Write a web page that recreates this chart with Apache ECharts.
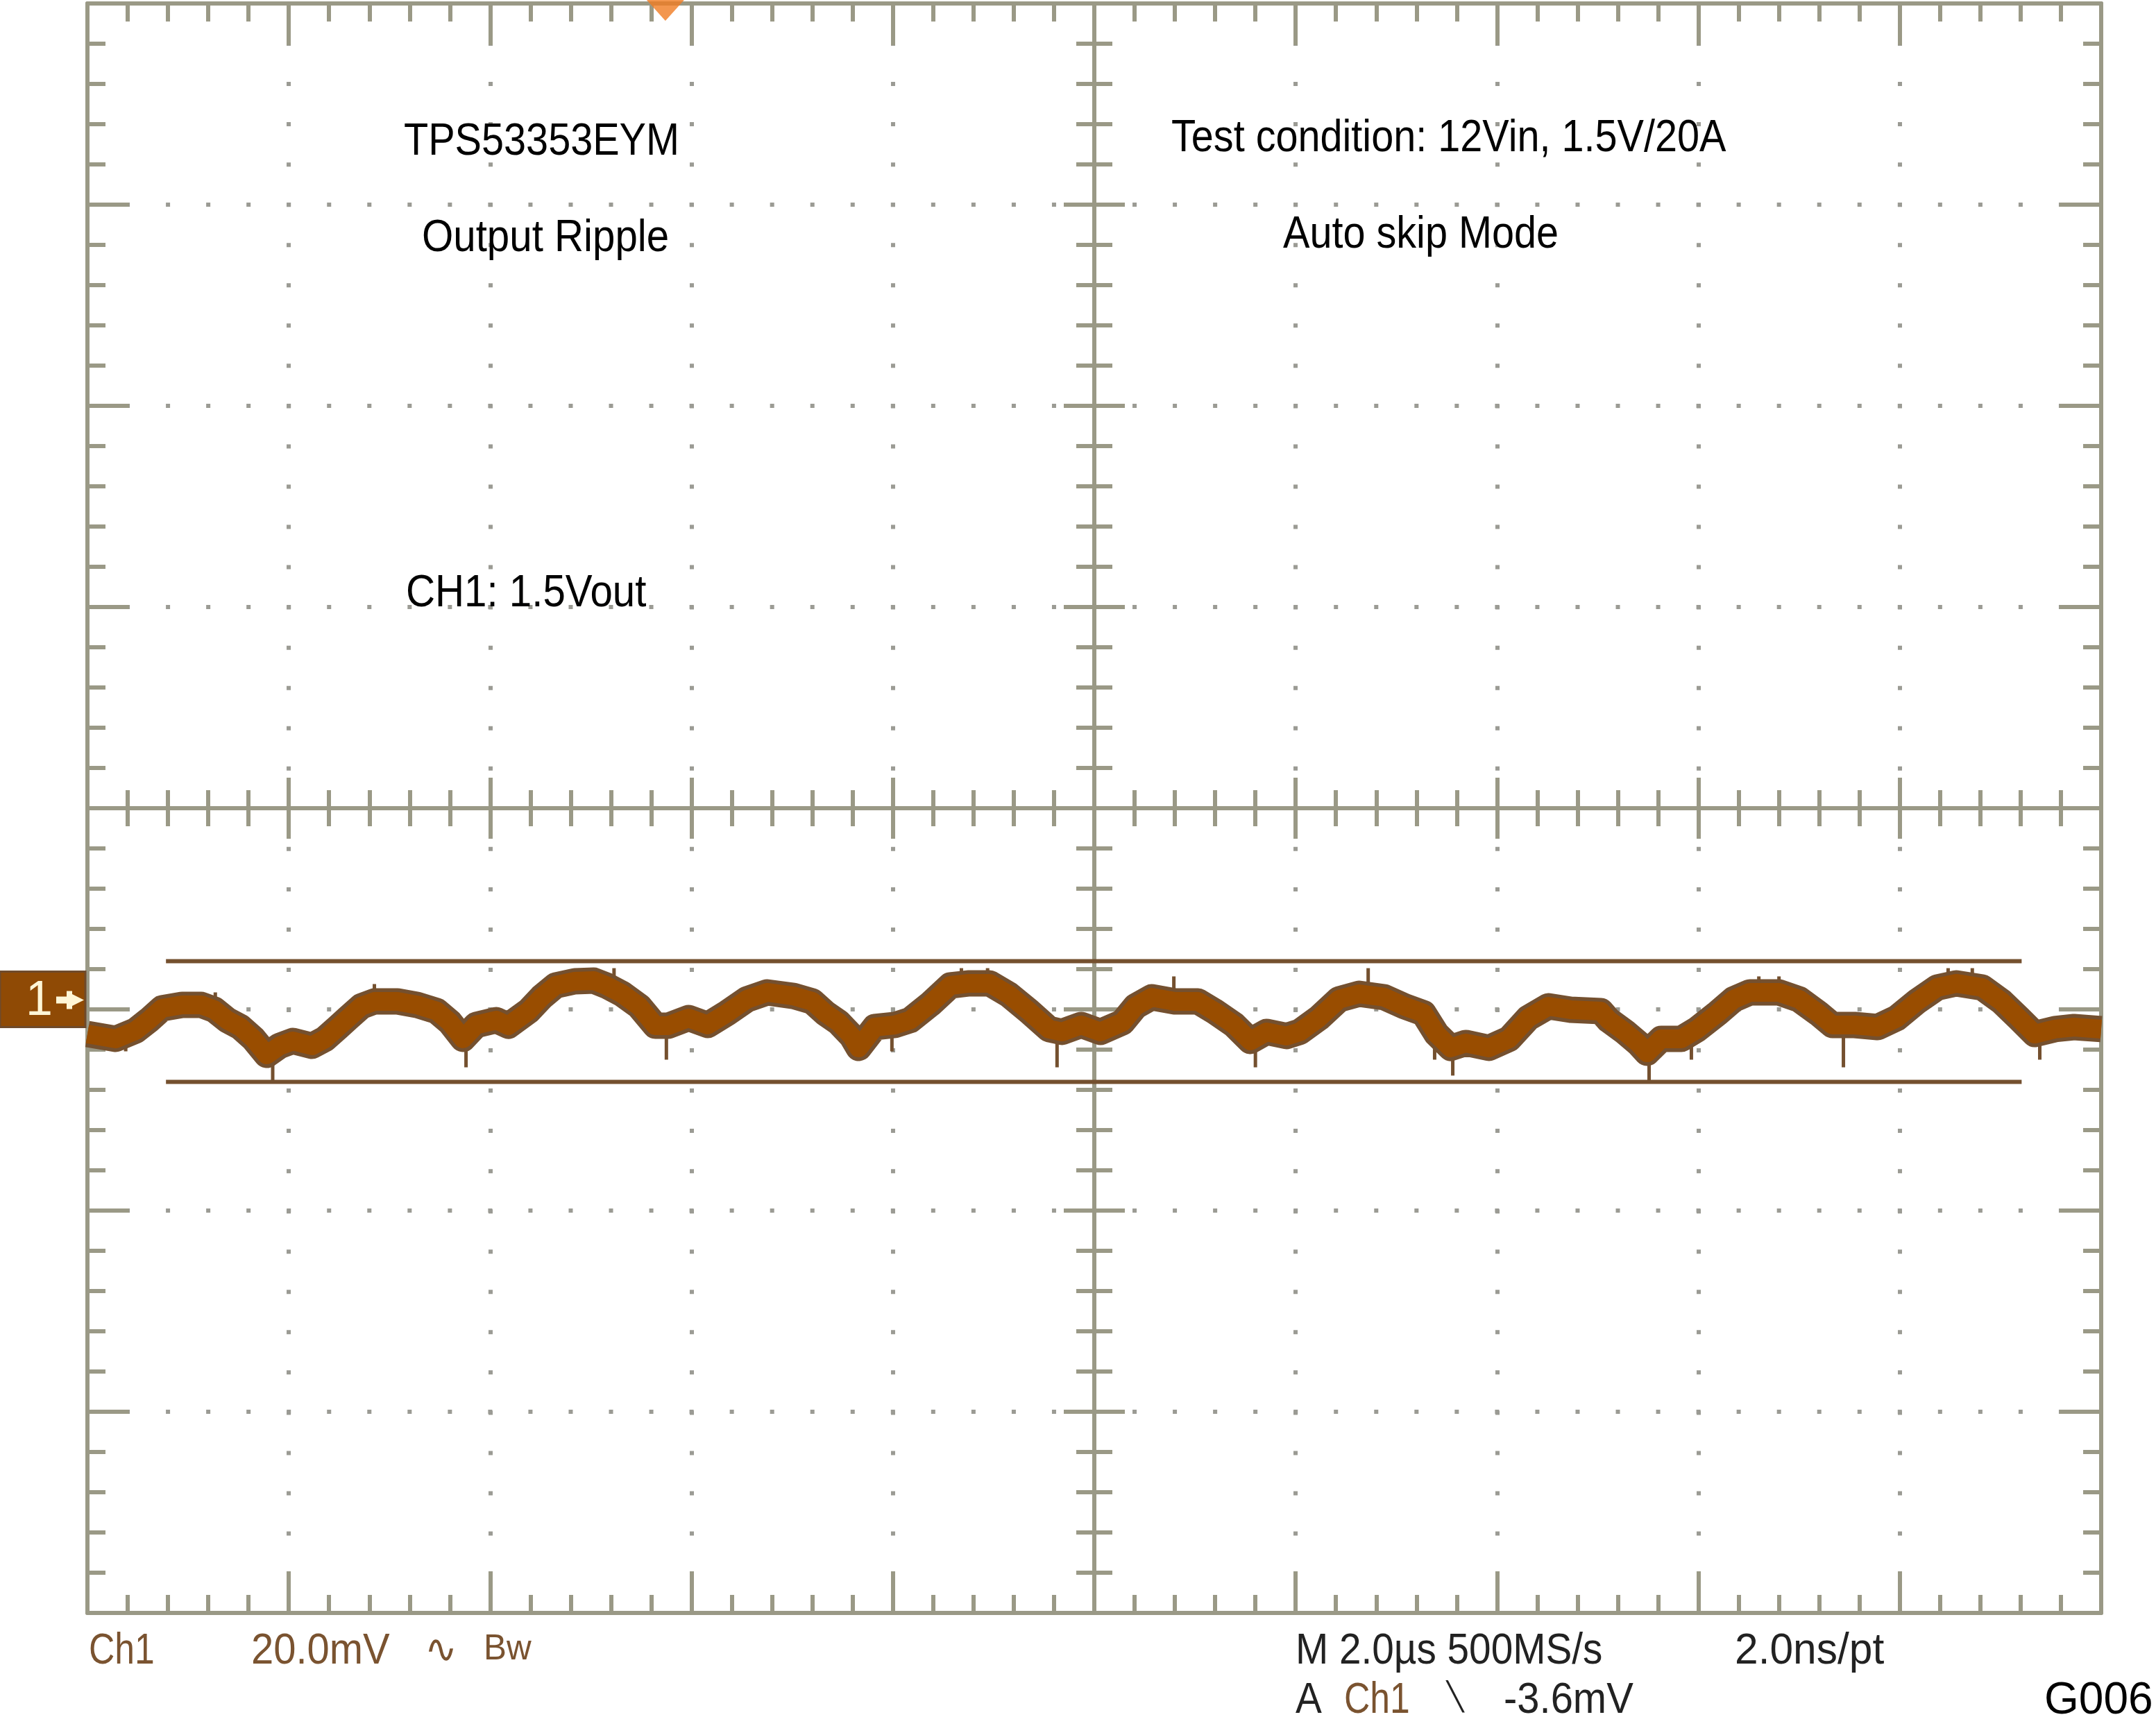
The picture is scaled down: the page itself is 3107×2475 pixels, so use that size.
<!DOCTYPE html>
<html><head><meta charset="utf-8">
<script src="https://cdn.jsdelivr.net/npm/echarts@6/dist/echarts.min.js"></script>
<style>html,body{margin:0;padding:0;background:#fff;}#c{width:3107px;height:2475px;}</style>
</head><body><div id="c"></div>
<script>
// Horizontal: time in µs (2.0 µs/div, 10 div)
const timeMin = 0, timeMax = 20, timeDiv = 2;
// Vertical: mV on screen scale (20 mV/div, 8 div, centred)
const voltMin = -80, voltMax = 80, voltDiv = 20;
// Channel 1 reference marker position (mV on screen scale)
const ch1Offset = -19.0;
// Output ripple trace (µs, mV relative to Ch1 marker)
const traceTime = [0.00,0.28,0.48,0.61,0.74,0.94,1.13,1.26,1.39,1.52,
  1.65,1.78,1.91,2.04,2.23,2.36,2.49,2.59,2.72,2.85,
  3.08,3.27,3.47,3.60,3.73,3.86,4.06,4.18,4.38,4.51,
  4.65,4.84,5.03,5.15,5.31,5.48,5.64,5.77,5.97,6.16,
  6.35,6.55,6.75,7.01,7.20,7.33,7.46,7.59,7.66,7.82,
  8.02,8.17,8.37,8.57,8.76,8.96,9.15,9.35,9.55,9.68,
  9.87,10.06,10.28,10.41,10.57,10.80,11.03,11.19,11.39,11.55,
  11.71,11.91,12.04,12.23,12.43,12.63,12.88,13.08,13.27,13.40,
  13.54,13.69,13.92,14.12,14.31,14.51,14.73,15.03,15.11,15.27,
  15.40,15.49,15.63,15.83,15.99,16.19,16.35,16.51,16.80,17.00,
  17.19,17.33,17.55,17.78,17.97,18.17,18.37,18.56,18.82,19.01,
  19.18,19.34,19.54,19.73,20.00];
const traceMv = [-3.45,-3.93,-3.10,-2.07,-0.90,-0.55,-0.55,-1.03,-2.07,-2.76,
  -3.93,-5.52,-4.62,-4.14,-4.62,-3.93,-2.76,-1.86,-0.69,-0.21,
  -0.21,-0.55,-1.17,-2.28,-3.93,-2.55,-2.07,-2.62,-1.17,0.21,
  1.38,1.79,1.86,1.38,0.55,-0.69,-2.62,-2.62,-1.86,-2.55,
  -1.38,0.00,0.69,0.34,-0.21,-1.38,-2.28,-3.65,-4.83,-2.76,
  -2.55,-2.07,-0.48,1.38,1.59,1.59,0.48,-1.17,-2.96,-3.24,
  -2.55,-3.24,-2.28,-0.69,0.21,-0.21,-0.21,-1.17,-2.55,-4.14,
  -3.24,-3.65,-3.24,-1.86,0.00,0.55,0.21,-0.69,-1.38,-3.45,
  -4.83,-4.34,-4.83,-3.93,-1.86,-0.69,-1.03,-1.17,-2.07,-3.24,
  -4.34,-5.31,-3.93,-3.93,-2.96,-1.38,0.00,0.69,0.69,0.00,
  -1.38,-2.55,-2.55,-2.76,-1.86,-0.21,1.17,1.59,1.17,-0.21,
  -1.86,-3.45,-2.96,-2.76,-2.96];
// Noise spikes (µs, tip in mV relative to Ch1 marker)
const spikeTime = [0.38,1.00,1.27,1.84,2.85,3.76,5.04,5.23,5.75,7.00,
  7.66,7.99,8.68,8.94,9.63,10.79,11.60,12.72,13.38,13.56,
  15.51,15.93,16.60,16.80,17.44,18.48,18.72,19.39];
const spikeEndMv = [-5.17,0.69,0.69,-8.07,1.52,-6.76,3.10,3.10,-6.00,1.52,
  -6.00,-5.17,3.10,3.10,-6.76,2.28,-6.76,3.10,-6.00,-7.58,
  -8.07,-6.00,2.28,2.28,-6.76,3.10,3.10,-6.00];
// Horizontal measurement cursors
const cursorTime = [0.78, 19.21];
const cursorMv = [3.8, -8.2];
// Trigger position (µs)
const triggerTime = 5.74;

const gridColor = '#9a9986';
const dotColor = '#9b9b94';
const traceColor = '#994d00';
const edgeColor = '#74502f';

function interp(t) {
  for (let i = 0; i < traceTime.length - 1; i++) {
    if (t >= traceTime[i] && t <= traceTime[i + 1]) {
      const f = (t - traceTime[i]) / (traceTime[i + 1] - traceTime[i]);
      return traceMv[i] + f * (traceMv[i + 1] - traceMv[i]);
    }
  }
  return traceMv[traceMv.length - 1];
}

function axis(type, pos, opts) {
  return {
    type: 'value',
    min: type === 'x' ? timeMin : voltMin,
    max: type === 'x' ? timeMax : voltMax,
    interval: type === 'x' ? timeDiv : voltDiv,
    position: pos,
    offset: opts.offset || 0,
    axisLine: {show: true, onZero: false, lineStyle: {color: gridColor, width: 6}},
    axisTick: {show: true, inside: opts.inside, length: opts.major, lineStyle: {color: gridColor, width: 6}},
    minorTick: {show: true, splitNumber: 5, length: opts.minor, lineStyle: {color: gridColor, width: 6}},
    axisLabel: {show: false},
    splitLine: {show: !!opts.split, lineStyle: {color: dotColor, width: 6, type: [6, 52.04], dashOffset: 3, cap: 'butt'}},
    axisPointer: {show: false}
  };
}

const tracePts = traceTime.map((t, i) => [t, traceMv[i] + ch1Offset]);
const spikeData = spikeTime.map((t, i) => [t, interp(t) + ch1Offset, spikeEndMv[i] + ch1Offset]);

const pixFont = "'Liberation Sans', Arial, sans-serif";
function label(text, x, y, size, color, sx) {
  return {type: 'text', x: x, y: y, scaleX: sx, z: 100,
    style: {text: text, fill: color, fontSize: size, fontFamily: pixFont, align: 'left', verticalAlign: 'middle'}};
}

const chart = echarts.init(document.getElementById('c'), null, {renderer: 'canvas'});
chart.setOption({
  animation: false,
  backgroundColor: '#ffffff',
  grid: {left: 126, top: 5, width: 2902, height: 2320, containLabel: false},
  xAxis: [
    axis('x', 'bottom', {inside: true, major: 60, minor: 26, split: true}),
    axis('x', 'top', {inside: true, major: 60, minor: 26}),
    axis('x', 'bottom', {inside: true, major: 44, minor: 26, offset: -1160}),
    axis('x', 'bottom', {inside: false, major: 44, minor: 26, offset: -1160})
  ],
  yAxis: [
    axis('y', 'left', {inside: true, major: 60, minor: 26, split: true}),
    axis('y', 'right', {inside: true, major: 60, minor: 26}),
    axis('y', 'left', {inside: true, major: 44, minor: 26, offset: -1451}),
    axis('y', 'left', {inside: false, major: 44, minor: 26, offset: -1451})
  ],
  series: [
    {type: 'line', name: 'cursorHi', data: cursorTime.map(t => [t, cursorMv[0] + ch1Offset]),
      symbol: 'none', z: 5, lineStyle: {color: edgeColor, width: 6}},
    {type: 'line', name: 'cursorLo', data: cursorTime.map(t => [t, cursorMv[1] + ch1Offset]),
      symbol: 'none', z: 5, lineStyle: {color: edgeColor, width: 6}},
    {type: 'line', name: 'edge', data: tracePts, symbol: 'none', z: 6,
      lineStyle: {color: edgeColor, width: 38, cap: 'butt', join: 'round'}},
    {type: 'custom', name: 'spikes', data: spikeData, z: 7,
      renderItem: function (params, api) {
        const p1 = api.coord([api.value(0), api.value(1)]);
        const p2 = api.coord([api.value(0), api.value(2)]);
        return {type: 'rect', shape: {x: p1[0] - 2.5, y: Math.min(p1[1], p2[1]), width: 5, height: Math.abs(p2[1] - p1[1])},
          style: {fill: edgeColor}};
      }},
    {type: 'line', name: 'core', data: tracePts, symbol: 'none', z: 8,
      lineStyle: {color: traceColor, width: 27, cap: 'butt', join: 'round'}},
    {type: 'scatter', name: 'trigger', data: [[triggerTime, voltMax]], clip: false, z: 20,
      symbol: 'triangle', symbolRotate: 180, symbolSize: [54, 30], symbolOffset: [0, 10],
      itemStyle: {color: '#f07c22'}},
    {type: 'custom', name: 'ch1marker', data: [[timeMin, ch1Offset]], clip: false, z: 20,
      renderItem: function (params, api) {
        const p = api.coord([api.value(0), api.value(1)]);
        const cx = p[0] - 3, cy = p[1];
        const cream = '#fff6d6';
        return {type: 'group', children: [
          {type: 'rect', shape: {x: cx - 123, y: cy - 40, width: 123, height: 80}, style: {fill: '#8f4a05', stroke: '#6f4a2b', lineWidth: 3}},
          {type: 'text', x: cx - 86, y: cy + 3, style: {text: '1', fill: cream, fontSize: 70, fontFamily: pixFont, verticalAlign: 'middle'}},
          {type: 'rect', shape: {x: cx - 42, y: cy - 4, width: 26, height: 10}, style: {fill: cream}},
          {type: 'rect', shape: {x: cx - 27, y: cy - 12, width: 8, height: 26}, style: {fill: cream}},
          {type: 'polygon', shape: {points: [[cx - 20, cy - 8], [cx - 2, cy + 1], [cx - 20, cy + 10]]}, style: {fill: cream}}
        ]};
      }}
  ],
  graphic: [
    label('TPS53353EYM', 582, 205, 64, '#000', 0.9),
    label('Output Ripple', 608, 344, 64, '#000', 0.91),
    label('CH1: 1.5Vout', 585, 856, 64, '#000', 0.91),
    label('Test condition: 12Vin, 1.5V/20A', 1688, 200, 64, '#000', 0.9),
    label('Auto skip Mode', 1849, 339, 64, '#000', 0.9),
    label('Ch1', 128, 2381, 63, '#7a5330', 0.82),
    label('20.0mV', 362, 2381, 63, '#7a5330', 0.92),
    label('\u223F', 612, 2381, 56, '#7a5330', 1),
    label('Bw', 697, 2378, 52, '#7a5330', 0.95),
    label('M 2.0\u00B5s 500MS/s', 1867, 2381, 63, '#222', 0.9),
    label('2.0ns/pt', 2500, 2381, 63, '#222', 0.96),
    label('A', 1867, 2452, 63, '#222', 0.9),
    label('Ch1', 1937, 2452, 63, '#7a5330', 0.82),
    label('\u2572', 2085, 2448, 40, '#222', 1),
    label('-3.6mV', 2167, 2452, 63, '#222', 0.92),
    label('G006', 2946, 2452, 64, '#000', 1)
  ]
});
</script></body></html>
